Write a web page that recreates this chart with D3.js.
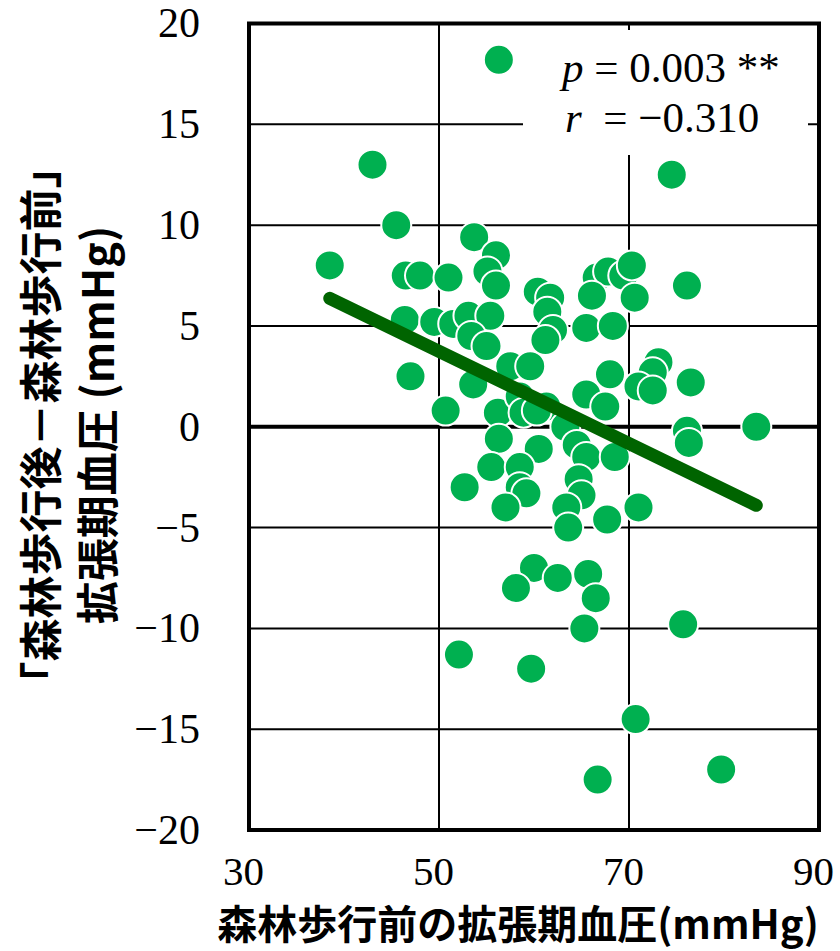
<!DOCTYPE html>
<html>
<head>
<meta charset="utf-8">
<script src="https://cdn.jsdelivr.net/npm/d3@7"></script>
<style>
  body { margin: 0; background: #fff; }
</style>
</head>
<body>
<div id="chart"></div>
<script>
// diastolic BP before forest walk (x) and change after - before (y)
var bpBefore = [56.3, 43.0, 45.5, 74.5, 38.5, 46.5, 48.0, 51.0, 53.7, 56.0,
	55.1, 56.0, 60.4, 66.6, 67.8, 69.4, 70.3, 66.1, 70.6, 76.1,
	46.4, 49.5, 51.5, 53.1, 55.4, 53.4, 55.0, 57.5, 59.6, 47.0,
	53.6, 50.7, 56.2, 58.5, 58.9, 61.7, 61.4, 62.0, 61.2, 65.5,
	68.3, 68.0, 65.5, 67.5, 73.1, 72.5, 71.0, 72.5, 76.5, 61.3,
	60.3, 63.3, 83.4, 76.1, 76.3, 60.5, 64.5, 65.5, 68.5, 64.7,
	65.0, 63.4, 63.6, 67.7, 71.0, 56.3, 55.5, 58.5, 52.7, 58.5,
	59.2, 57.0, 60.0, 58.1, 62.5, 65.7, 66.5, 65.3, 52.1, 59.7,
	75.7, 70.7, 66.7, 79.7];
var bpChange = [18.2, 13.0, 10.0, 12.5, 8.0, 7.5, 7.5, 7.4, 9.4, 8.5,
	7.7, 7.0, 6.7, 7.4, 7.7, 7.5, 8.0, 6.5, 6.4, 7.0,
	5.3, 5.2, 5.1, 5.5, 5.5, 4.5, 4.0, 3.0, 3.0, 2.5,
	2.1, 0.8, 0.7, 1.5, 0.7, 6.4, 5.7, 4.8, 4.3, 4.9,
	5.0, 2.6, 1.6, 1.0, 3.2, 2.7, 2.0, 1.8, 2.2, 1.0,
	0.8, 0.0, 0.0, -0.2, -0.8, -1.1, -0.9, -1.5, -1.5, -2.6,
	-3.4, -4.0, -5.0, -4.6, -4.0, -0.6, -2.0, -2.0, -3.0, -3.0,
	-3.3, -4.0, -7.0, -8.0, -7.5, -7.3, -8.5, -10.0, -11.3, -12.0,
	-9.8, -14.5, -17.5, -17.0];

var xTicks = [30, 50, 70, 90];
var yTicks = [-20, -15, -10, -5, 0, 5, 10, 15, 20];

// regression line y = a + b x
var trendIntercept = 15.17;
var trendSlope = -0.2286;

var statLines = [["p", " = 0.003 **"], ["r", "  = \u22120.310"]];

var yTitle = ["\u300C森林歩行後\uFF0D森林歩行前\u300D", "拡張期血圧 (mmHg)"];
var xTitle = "森林歩行前の拡張期血圧(mmHg)";

var plotLeft = 249, plotRight = 819, plotTop = 23.5, plotBottom = 830;

var x = d3.scaleLinear().domain([30, 90]).range([plotLeft, plotRight]);
var y = d3.scaleLinear().domain([-20, 20]).range([plotBottom, plotTop]);

var svg = d3.select("#chart").append("svg")
	.attr("width", 840)
	.attr("height", 951);

var serif = "'Liberation Serif', 'Times New Roman', serif";
var sans = "'Noto Sans CJK JP', 'Noto Sans', sans-serif";

// grid
svg.append("g").selectAll("line")
	.data(yTicks.filter(function (d) { return d > -20 && d < 20; }))
	.enter().append("line")
	.attr("x1", plotLeft).attr("x2", plotRight)
	.attr("y1", function (d) { return y(d); })
	.attr("y2", function (d) { return y(d); })
	.attr("stroke", "#000")
	.attr("stroke-width", function (d) { return d === 0 ? 4 : 2; });

svg.append("g").selectAll("line")
	.data(xTicks.filter(function (d) { return d > 30 && d < 90; }))
	.enter().append("line")
	.attr("x1", function (d) { return x(d); })
	.attr("x2", function (d) { return x(d); })
	.attr("y1", plotTop).attr("y2", plotBottom)
	.attr("stroke", "#000")
	.attr("stroke-width", 2);

// white box behind the stats
svg.append("rect")
	.attr("x", 523).attr("y", 30)
	.attr("width", 285).attr("height", 125)
	.attr("fill", "#fff");

// points
svg.append("g").selectAll("circle")
	.data(bpBefore)
	.enter().append("circle")
	.attr("cx", function (d) { return x(d); })
	.attr("cy", function (d, i) { return y(bpChange[i]); })
	.attr("r", 15)
	.attr("fill", "#00B050")
	.attr("stroke", "#fff")
	.attr("stroke-width", 2);

// trend line
var xMin = d3.min(bpBefore), xMax = d3.max(bpBefore);
svg.append("line")
	.attr("x1", x(xMin))
	.attr("y1", y(trendIntercept + trendSlope * xMin))
	.attr("x2", x(xMax))
	.attr("y2", y(trendIntercept + trendSlope * xMax))
	.attr("stroke", "#006400")
	.attr("stroke-width", 13)
	.attr("stroke-linecap", "round");

// frame
svg.append("rect")
	.attr("x", plotLeft).attr("y", plotTop)
	.attr("width", plotRight - plotLeft).attr("height", plotBottom - plotTop)
	.attr("fill", "none")
	.attr("stroke", "#000")
	.attr("stroke-width", 4);

// stats text
for (var i = 0; i < statLines.length; i = i + 1) {
	var t = svg.append("text")
		.attr("x", i === 0 ? 562 : 565)
		.attr("y", 82 + 50 * i)
		.attr("font-family", serif)
		.attr("font-size", 43)
		.style("white-space", "pre");
	t.append("tspan").attr("font-style", "italic").text(statLines[i][0]);
	t.append("tspan").text(statLines[i][1]);
}

// axes
var yAxis = d3.axisLeft(y).tickValues(yTicks).tickSize(0).tickPadding(49);
var gy = svg.append("g").attr("transform", "translate(" + plotLeft + ",0)").call(yAxis);
gy.select(".domain").remove();
gy.selectAll("text")
	.attr("font-family", serif)
	.attr("font-size", 42)
	.attr("fill", "#000");

var xAxis = d3.axisBottom(x).tickValues(xTicks).tickSize(0).tickPadding(26);
var gx = svg.append("g").attr("transform", "translate(-6," + plotBottom + ")").call(xAxis);
gx.select(".domain").remove();
gx.selectAll("text")
	.attr("font-family", serif)
	.attr("font-size", 41)
	.attr("fill", "#000");

// axis titles
var yt = svg.append("g").attr("transform", "translate(0,425) rotate(-90)");
yt.selectAll("text")
	.data(yTitle)
	.enter().append("text")
	.attr("x", 0)
	.attr("y", function (d, i) { return 38 + 57 * i; })
	.attr("dominant-baseline", "central")
	.attr("text-anchor", "middle")
	.attr("font-family", sans)
	.attr("font-weight", "bold")
	.attr("font-size", 43)
	.text(function (d) { return d; });

svg.append("text")
	.attr("x", 518)
	.attr("y", 922)
	.attr("dominant-baseline", "central")
	.attr("text-anchor", "middle")
	.attr("font-family", sans)
	.attr("font-weight", "bold")
	.attr("font-size", 40)
	.text(xTitle);
</script>
</body>
</html>
